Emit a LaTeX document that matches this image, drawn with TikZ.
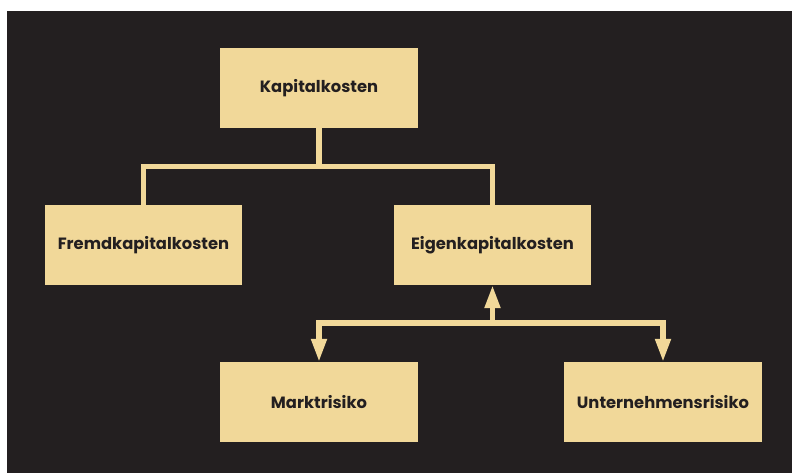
\documentclass[tikz,border=0pt]{standalone}
\usepackage{fontspec}
\newfontfamily\boxfont{Poppins}
\usetikzlibrary{arrows.meta}
\definecolor{bgdark}{HTML}{231F20}
\definecolor{boxfill}{HTML}{F1D899}
\tikzset{
    kbox/.style={fill=boxfill, text=bgdark, minimum width=3.96cm, minimum height=1.6cm,
        inner sep=0pt, font=\boxfont\bfseries\fontsize{9.3}{10}\selectfont},
    bar/.style={draw=boxfill, line width=2.9pt},
    pfeil/.style={bar, -{Triangle[width=8.5pt,length=13pt]}}
}
\begin{document}
\begin{tikzpicture}[x=0.02cm, y=-0.02cm]
    \useasboundingbox (0,0) rectangle (792,473);
    \fill[bgdark] (7,11) rectangle (792,473);

    \node[kbox] (kap) at (319,88) {\raisebox{-1.2pt}{Kapitalkosten}};
    \node[kbox] (fremd) at (143.5,245) {\raisebox{-1.2pt}{Fremdkapitalkosten}};
    \node[kbox] (eigen) at (492.5,245) {\raisebox{-1.2pt}{Eigenkapitalkosten}};
    \node[kbox] (markt) at (319,402) {\raisebox{-1.2pt}{Marktrisiko}};
    \node[kbox] (unt) at (663,402) {\raisebox{-1.2pt}{Unternehmensrisiko}};

    % tree
    \coordinate (split) at (319,166.5);
    \draw[bar] (kap.south) -- (split);
    \draw[bar] (fremd.north) |- (split) -| (eigen.north);

    % risks
    \coordinate (join) at (492.5,323);
    \draw[pfeil] (join) -- (eigen.south);
    \draw[pfeil] (join) -| (markt.north);
    \draw[pfeil] (join) -| (unt.north);
\end{tikzpicture}
\end{document}
